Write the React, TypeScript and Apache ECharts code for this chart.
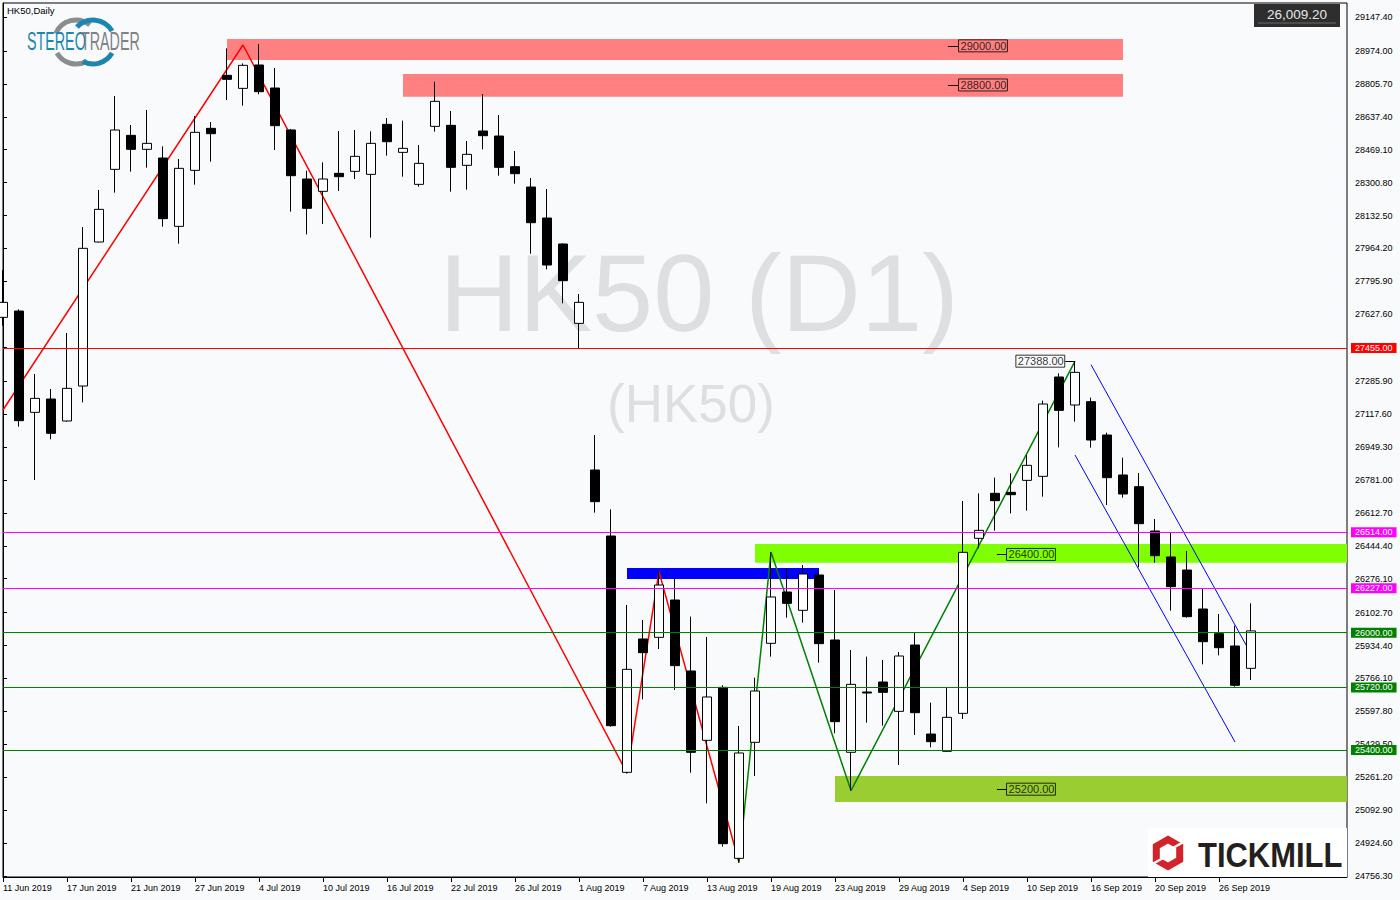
import React, { useEffect, useRef } from 'react';
import * as echarts from 'echarts';

const FONT = "'Liberation Sans', Arial, sans-serif";

const DATES = [
  '11 Jun 2019', '12 Jun 2019', '13 Jun 2019', '14 Jun 2019', '17 Jun 2019', '18 Jun 2019', '19 Jun 2019', '20 Jun 2019',
  '21 Jun 2019', '24 Jun 2019', '25 Jun 2019', '26 Jun 2019', '27 Jun 2019', '28 Jun 2019', '2 Jul 2019', '3 Jul 2019',
  '4 Jul 2019', '5 Jul 2019', '8 Jul 2019', '9 Jul 2019', '10 Jul 2019', '11 Jul 2019', '12 Jul 2019', '15 Jul 2019',
  '16 Jul 2019', '17 Jul 2019', '18 Jul 2019', '19 Jul 2019', '22 Jul 2019', '23 Jul 2019', '24 Jul 2019', '25 Jul 2019',
  '26 Jul 2019', '29 Jul 2019', '30 Jul 2019', '31 Jul 2019', '1 Aug 2019', '2 Aug 2019', '5 Aug 2019', '6 Aug 2019',
  '7 Aug 2019', '8 Aug 2019', '9 Aug 2019', '12 Aug 2019', '13 Aug 2019', '14 Aug 2019', '15 Aug 2019', '16 Aug 2019',
  '19 Aug 2019', '20 Aug 2019', '21 Aug 2019', '22 Aug 2019', '23 Aug 2019', '26 Aug 2019', '27 Aug 2019', '28 Aug 2019',
  '29 Aug 2019', '30 Aug 2019', '2 Sep 2019', '3 Sep 2019', '4 Sep 2019', '5 Sep 2019', '6 Sep 2019', '9 Sep 2019',
  '10 Sep 2019', '11 Sep 2019', '12 Sep 2019', '13 Sep 2019', '16 Sep 2019', '17 Sep 2019', '18 Sep 2019', '19 Sep 2019',
  '20 Sep 2019', '23 Sep 2019', '24 Sep 2019', '25 Sep 2019', '26 Sep 2019', '27 Sep 2019', '30 Sep 2019',
];
// empty future slots on the right of the chart (not labelled)
const FUTURE = ['2 Oct 2019', '3 Oct 2019', '4 Oct 2019', '8 Oct 2019', '9 Oct 2019', '10 Oct 2019'];

const OPEN = [
  27612, 27644.4, 27126.4, 27194.5, 27082.1, 27261, 27997.2, 28368.6, 28542.4, 28470.9, 28426.6, 28077.2, 28363.5, 28578.2,
  28849.2, 28782.7, 28902, 28784.4, 28570, 28319.2, 28256.2, 28348.2, 28358.4, 28343, 28598.7, 28455.5, 28291.9, 28588.4,
  28593.5, 28389.1, 28564.6, 28539, 28382.3, 28278.3, 28119.8, 27987, 27581.3, 26831.7, 26494.3, 25286.2, 25967.8, 25976.3,
  26167.1, 25804.2, 25449.8, 25720.7, 24846.5, 25439.6, 25945.7, 26208, 26114.3, 26294.9, 25962.7, 25388.6, 25696.8, 25747.9,
  25597.9, 25937, 25482, 25393.5, 25587.7, 26482.4, 26712.4, 26717.5, 26778.8, 26799.3, 27307.1, 27163.9, 27181, 27010.6,
  26806.1, 26746.5, 26519.8, 26387, 26320.4, 26121.1, 25995, 25932, 25817.8,
];
const CLOSE = [
  27688.7, 27083.8, 27197.9, 27019.1, 27249.1, 27964.8, 28164.1, 28569.7, 28470.9, 28501.5, 28116.6, 28373.7, 28557.8, 28551,
  28828.7, 28900.3, 28765.6, 28591.9, 28336.2, 28169.3, 28319.2, 28331.1, 28435.1, 28501.5, 28510, 28476, 28399.3, 28716.2,
  28378.8, 28445.3, 28540.7, 28378.8, 28346.5, 28096, 27879.6, 27799.5, 27688.7, 26669.8, 25524.7, 25812.7, 25897.9, 26243.8,
  25831.5, 25388.4, 25671.3, 24921.5, 25385, 25702, 26182.5, 26150.1, 26300, 25944, 25545.2, 25736, 25691.7, 25695.1,
  25880.8, 25591.1, 25442.9, 25567.3, 26410.8, 26523.2, 26674.9, 26705.5, 26855.5, 27169, 27136.6, 27330.9, 26985, 26792.5,
  26709, 26557.3, 26393.7, 26235.3, 26081.9, 25954.1, 25923.4, 25730.9, 26009.2,
];
const LOW = [
  27569.5, 27053.2, 26780.5, 26988.4, 27078, 27177.5, 27995, 28249.4, 28356.7, 28377.2, 28075.5, 27988.6, 28290.2, 28407.8,
  28723.1, 28694.1, 28752, 28467.5, 28152.2, 28036.4, 28089.2, 28257.9, 28319.2, 28019.3, 28438.5, 28331.1, 28280, 28561.2,
  28254.5, 28264.7, 28470.9, 28336.2, 28295.4, 27937.5, 27857.4, 27683.6, 27453.6, 26613.6, 25519.6, 25281, 25659.4, 25916.7,
  25707.1, 25284.4, 25127.7, 24906.2, 24825, 25267.5, 25877.5, 26076.8, 26051.3, 25846.8, 25485.6, 25192.6, 25540, 25524.7,
  25323.6, 25476.9, 25413.9, 25391.8, 25558.8, 26431.3, 26521.5, 26610.1, 26623.8, 26695.3, 26947.5, 27078.7, 26945.8, 26652.7,
  26690.2, 26334.1, 26357.9, 26112.6, 26076.8, 25838.2, 25884.3, 25724.1, 25758.2,
];
const HIGH = [
  27854, 27652.9, 27322.3, 27245.6, 27531.9, 28073.8, 28263, 28743.5, 28595.3, 28672, 28486, 28421.5, 28641.3, 28610.6,
  28987.2, 28910, 29009.3, 28886.6, 28575, 28361.8, 28404.4, 28564.6, 28569.7, 28562.9, 28631, 28617.4, 28493, 28816.8,
  28666.8, 28513.5, 28753.7, 28646.4, 28462.3, 28324.3, 28268.1, 27990, 27731.3, 27010.6, 26630.6, 26141.6, 26064.9, 26312,
  26274.5, 26082, 25978, 25730.9, 25523, 25770.1, 26412, 26330.7, 26346, 26315.4, 26218.3, 25911.5, 25877.4, 25860.4,
  25901.3, 26001.8, 25642.2, 25718.9, 26673.2, 26712.4, 26792.4, 26814.6, 26908.3, 27186.1, 27325.8, 27388, 27201.4, 27022.5,
  26894.7, 26816.3, 26581.2, 26511.3, 26417.6, 26225, 26095.5, 26035.9, 26150.1,
];

const Y_MIN = 24751.1;
const Y_MAX = 29219.0;
const Y_TICKS = [
  29147.4, 28974.0, 28805.7, 28637.4, 28469.1, 28300.8, 28132.5, 27964.2, 27795.9, 27627.6, 27459.3, 27285.9, 27117.6,
  26949.3, 26781.0, 26612.7, 26444.4, 26276.1, 26102.7, 25934.4, 25766.1, 25597.8, 25429.5, 25261.2, 25092.9, 24924.6, 24756.3,
];

// horizontal levels
const LEVELS = [27455, 26514, 26227, 26000, 25720, 25400];
const LEVEL_COLORS = ['#ff0000', '#ff00ff', '#ff00ff', '#008000', '#008000', '#008000'];

// zones (bar index positions, price top/bottom)
const ZONE_X0 = [14, 25, 47, 39, 52];
const ZONE_X1 = [70, 70, 84, 51, 84];
const ZONE_TOP = [29034.9, 28856.0, 26453.0, 26330.7, 25267.4];
const ZONE_BOTTOM = [28927.6, 28740.0, 26357.4, 26274.5, 25134.5];
const ZONE_COLORS = ['#ff8080', '#ff8080', '#80ff00', '#0000ff', '#9acd32'];

// zigzag
const RED_X = [0, 15, 39, 41, 46];
const RED_Y = [27138.4, 29004.3, 25282, 26312, 24825];
const GREEN_X = [46, 48, 53, 67];
const GREEN_Y = [24825, 26412, 25192.6, 27388];

// channel
const UPPER_X = [68, 78];
const UPPER_Y = [27370, 25891.6];
const LOWER_X = [67, 77];
const LOWER_Y = [26908.3, 25441.2];

// price tags on zones / pivot
const TAG_VALUES = [29000, 28800, 26400, 25200, 27388];
const TAG_BOX_X = [59.69, 59.69, 62.69, 62.69, 66.39];
const TAG_LINE_X = [59.06, 59.06, 62.12, 62.12, 67];
const TAG_SIDE = ['right', 'right', 'right', 'right', 'left'];

export default function App() {
  const ref = useRef<HTMLDivElement>(null);

  useEffect(() => {
    if (!ref.current) return;
    const chart = echarts.init(ref.current, undefined, { renderer: 'svg' });
    const categories = [...DATES, ...FUTURE];
    const nReal = DATES.length;

    const option: any = {
      animation: false,
      textStyle: { fontFamily: FONT },
      grid: {
        left: 3, top: 3, width: 1344, height: 874,
        show: true, borderColor: '#000', borderWidth: 1, backgroundColor: 'transparent',
      },
      xAxis: [
        {
          type: 'category',
          data: categories,
          boundaryGap: false,
          axisLine: { lineStyle: { color: '#000', width: 1 } },
          axisTick: {
            show: true, length: 5, lineStyle: { color: '#000' },
            interval: (i: number) => i % 4 === 0 && i < nReal,
          },
          axisLabel: {
            show: true, color: '#000', fontSize: 9, fontFamily: FONT, align: 'left', margin: 6,
            interval: (i: number) => i % 4 === 0 && i < nReal,
          },
          splitLine: { show: false },
        },
        { type: 'value', min: 0, max: 84, show: false, splitLine: { show: false } },
      ],
      yAxis: [
        {
          type: 'value', position: 'right', min: Y_MIN, max: Y_MAX, scale: true,
          axisLine: { show: true, lineStyle: { color: '#000' } },
          axisTick: { show: true, length: 4, lineStyle: { color: '#000' }, customValues: Y_TICKS },
          axisLabel: {
            show: true, color: '#000', fontSize: 9, fontFamily: FONT, margin: 8,
            customValues: Y_TICKS, formatter: (v: number) => v.toFixed(2),
          },
          splitLine: { show: false },
        },
      ],
      graphic: [
        {
          type: 'text', x: 699, y: 292, z: 0, silent: true,
          style: { text: 'HK50 (D1)', fill: '#dedfe1', font: `110px ${FONT}`, textAlign: 'center', textVerticalAlign: 'middle' },
        },
        {
          type: 'text', x: 691, y: 403, z: 0, silent: true,
          style: { text: '(HK50)', fill: '#dedfe1', font: `53px ${FONT}`, textAlign: 'center', textVerticalAlign: 'middle' },
        },
        {
          type: 'text', x: 7, y: 10, z: 10,
          style: { text: 'HK50,Daily', fill: '#000', font: `9.5px ${FONT}`, textVerticalAlign: 'middle' },
        },
        // Stereotrader logo
        { type: 'arc', z: 10, shape: { cx: 76, cy: 42, r: 22, startAngle: (203 * Math.PI) / 180, endAngle: (309 * Math.PI) / 180 }, style: { stroke: '#8a8c8e', lineWidth: 5, fill: 'none' } },
        { type: 'arc', z: 10, shape: { cx: 76, cy: 42, r: 22, startAngle: (60 * Math.PI) / 180, endAngle: (150 * Math.PI) / 180 }, style: { stroke: '#8a8c8e', lineWidth: 5, fill: 'none' } },
        { type: 'arc', z: 10, shape: { cx: 93, cy: 42, r: 22, startAngle: (223 * Math.PI) / 180, endAngle: (330 * Math.PI) / 180 }, style: { stroke: '#1b87b1', lineWidth: 5, fill: 'none' } },
        { type: 'arc', z: 10, shape: { cx: 93, cy: 42, r: 22, startAngle: (30 * Math.PI) / 180, endAngle: (117 * Math.PI) / 180 }, style: { stroke: '#1b87b1', lineWidth: 5, fill: 'none' } },
        {
          type: 'text', x: 27, y: 41, scaleX: 0.55, z: 11,
          style: { text: 'STEREO', fill: '#1b87b1', font: `26px ${FONT}`, textVerticalAlign: 'middle' },
        },
        {
          type: 'text', x: 81, y: 41, scaleX: 0.55, z: 11,
          style: { text: 'TRADER', fill: '#7f8184', font: `26px ${FONT}`, textVerticalAlign: 'middle' },
        },
        // current price box
        { type: 'rect', z: 10, shape: { x: 1254, y: 4, width: 86, height: 23 }, style: { fill: '#2e2e2e' } },
        { type: 'line', z: 11, shape: { x1: 1258, y1: 23, x2: 1336, y2: 23 }, style: { stroke: '#6a6a6a', lineWidth: 1 } },
        {
          type: 'text', x: 1297, y: 14.5, z: 11,
          style: { text: '26,009.20', fill: '#e6e6e6', font: `13.5px ${FONT}`, textAlign: 'center', textVerticalAlign: 'middle' },
        },
        // Tickmill logo
        { type: 'rect', z: 10, shape: { x: 1148, y: 828, width: 199, height: 49 }, style: { fill: '#ffffff' } },
        {
          type: 'polygon', z: 11,
          shape: { points: [[1168, 839.5], [1179.7, 846.25], [1179.7, 859.75], [1168, 866.5], [1156.3, 859.75], [1156.3, 846.25]] },
          style: { stroke: '#d2232a', lineWidth: 7, fill: 'none', lineJoin: 'miter' },
        },
        { type: 'line', z: 12, shape: { x1: 1172, y1: 848.5, x2: 1188, y2: 839.5 }, style: { stroke: '#ffffff', lineWidth: 2.5 } },
        { type: 'line', z: 12, shape: { x1: 1164, y1: 857.5, x2: 1148, y2: 866.5 }, style: { stroke: '#ffffff', lineWidth: 2.5 } },
        {
          type: 'text', x: 1198, y: 855, scaleX: 0.86, z: 11,
          style: { text: 'TICKMILL', fill: '#231f20', font: `bold 36px ${FONT}`, textVerticalAlign: 'middle' },
        },
      ],
      series: [
        {
          name: 'zones', type: 'line', xAxisIndex: 1, yAxisIndex: 0, data: [], silent: true,
          markArea: {
            silent: true,
            data: ZONE_X0.map((x0, i) => [
              { xAxis: x0, yAxis: ZONE_TOP[i], itemStyle: { color: ZONE_COLORS[i], opacity: 1 } },
              { xAxis: ZONE_X1[i], yAxis: ZONE_BOTTOM[i] },
            ]),
          },
        },
        {
          name: 'zigzag-red', type: 'line', xAxisIndex: 1, yAxisIndex: 0, z: 2, symbol: 'none', silent: true,
          data: RED_X.map((x, i) => [x, RED_Y[i]]),
          lineStyle: { color: '#ff0000', width: 1.5 },
        },
        {
          name: 'zigzag-green', type: 'line', xAxisIndex: 1, yAxisIndex: 0, z: 2, symbol: 'none', silent: true,
          data: GREEN_X.map((x, i) => [x, GREEN_Y[i]]),
          lineStyle: { color: '#008000', width: 1.5 },
        },
        {
          name: 'channel-up', type: 'line', xAxisIndex: 1, yAxisIndex: 0, z: 2, symbol: 'none', silent: true,
          data: UPPER_X.map((x, i) => [x, UPPER_Y[i]]),
          lineStyle: { color: '#0000ff', width: 1 },
        },
        {
          name: 'channel-low', type: 'line', xAxisIndex: 1, yAxisIndex: 0, z: 2, symbol: 'none', silent: true,
          data: LOWER_X.map((x, i) => [x, LOWER_Y[i]]),
          lineStyle: { color: '#0000ff', width: 1 },
        },
        {
          name: 'HK50', type: 'candlestick', xAxisIndex: 0, yAxisIndex: 0, z: 3, barWidth: 10,
          data: DATES.map((_, i) => [OPEN[i], CLOSE[i], LOW[i], HIGH[i]]),
          itemStyle: { color: '#ffffff', color0: '#000000', borderColor: '#000000', borderColor0: '#000000', borderWidth: 1 },
        },
        {
          name: 'levels', type: 'line', xAxisIndex: 1, yAxisIndex: 0, data: [], silent: true,
          markLine: {
            silent: true, symbol: ['none', 'none'],
            data: LEVELS.map((v, i) => ({
              yAxis: v,
              lineStyle: { color: LEVEL_COLORS[i], width: 1, type: 'solid' },
              label: {
                show: true, position: 'end', distance: 4, formatter: v.toFixed(2),
                color: '#ffffff', backgroundColor: LEVEL_COLORS[i], padding: [1, 4, 0, 4],
                fontSize: 9, fontFamily: FONT, lineHeight: 9,
              },
            })),
          },
        },
        {
          name: 'tags', type: 'scatter', xAxisIndex: 1, yAxisIndex: 0, z: 6, symbolSize: 1, silent: true,
          itemStyle: { color: 'rgba(0,0,0,0)' },
          data: TAG_VALUES.map((v, i) => ({
            value: [TAG_BOX_X[i], v],
            label: {
              show: true, position: TAG_SIDE[i], distance: 0, formatter: v.toFixed(2),
              color: '#000', fontSize: 11, fontFamily: FONT, lineHeight: 11,
              borderColor: '#000', borderWidth: 1, padding: [1, 1, 0, 2],
            },
          })),
          markLine: {
            silent: true, symbol: ['none', 'none'],
            label: { show: false },
            lineStyle: { color: '#000', width: 1, type: 'solid' },
            data: TAG_VALUES.map((v, i) => [
              { coord: [TAG_LINE_X[i], v] },
              { coord: [TAG_BOX_X[i], v] },
            ]),
          },
        },
      ],
    };

    chart.setOption(option);
    return () => chart.dispose();
  }, []);

  return (
    <div
      ref={ref}
      style={{ position: 'absolute', left: 0, top: 0, width: 1400, height: 900, background: '#f9fafc' }}
    />
  );
}
